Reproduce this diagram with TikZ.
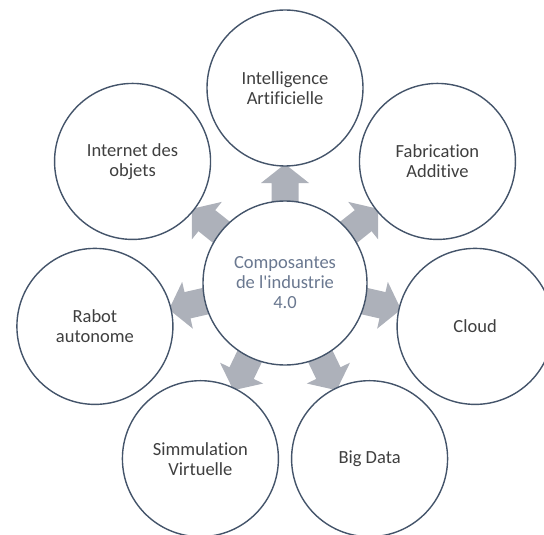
\documentclass[tikz,border=0pt]{standalone}
\usepackage{fontspec}
\newfontfamily\ringfont{Carlito}[Ligatures=NoCommon]
\usetikzlibrary{backgrounds,calc}

\definecolor{ringline}{HTML}{44546A}
\definecolor{ringtext}{HTML}{3F3F3F}
\definecolor{hubtext}{HTML}{6A7890}
\definecolor{arrowgray}{HTML}{ADB1BA}

\tikzset{
  ring/.style={circle, draw=ringline, line width=1.4pt, fill=white,
    minimum size=156pt, inner sep=0pt, align=center, text=ringtext,
    font=\ringfont\fontsize{18.5}{20}\selectfont},
  hub/.style={ring, minimum size=164pt, text=hubtext},
  blockarrow/.style={fill=arrowgray},
}

\begin{document}
\begin{tikzpicture}[x=1pt, y=1pt]
  \useasboundingbox (0,0) rectangle (544,-535);
  \clip (0,0) rectangle (544,-535);

  % central hub
  \node[hub] (c) at (285,-283) {Composantes\\de l\textquotesingle industrie\\4.0};

  % seven components placed evenly around the hub
  \node[ring] (ia)  at ($(c.center)+(90:195)$)      {Intelligence\\Artificielle};
  \node[ring] (fab) at ($(c.center)+(38.57:195)$)   {Fabrication\\Additive};
  \node[ring] (cl)  at ($(c.center)+(-12.86:195)$)  {Cloud};
  \node[ring] (bd)  at ($(c.center)+(-64.29:195)$)  {Big Data};
  \node[ring] (sim) at ($(c.center)+(-115.71:195)$) {Simmulation\\Virtuelle};
  \node[ring] (rob) at ($(c.center)+(-167.14:195)$) {Rabot\\autonome};
  \node[ring] (iot) at ($(c.center)+(141.43:195)$)  {Internet des\\objets};

  % block arrows from the hub to each component
  \begin{scope}[on background layer]
    \foreach \ang in {90,38.57,-12.86,-64.29,-115.71,-167.14,141.43} {
      \begin{scope}[shift={(c.center)}, rotate=\ang]
        \fill[blockarrow] (70,-13.5) -- (100,-13.5) -- (100,-24) -- (119,0)
          -- (100,24) -- (100,13.5) -- (70,13.5) -- cycle;
      \end{scope}
    }
  \end{scope}
\end{tikzpicture}
\end{document}
